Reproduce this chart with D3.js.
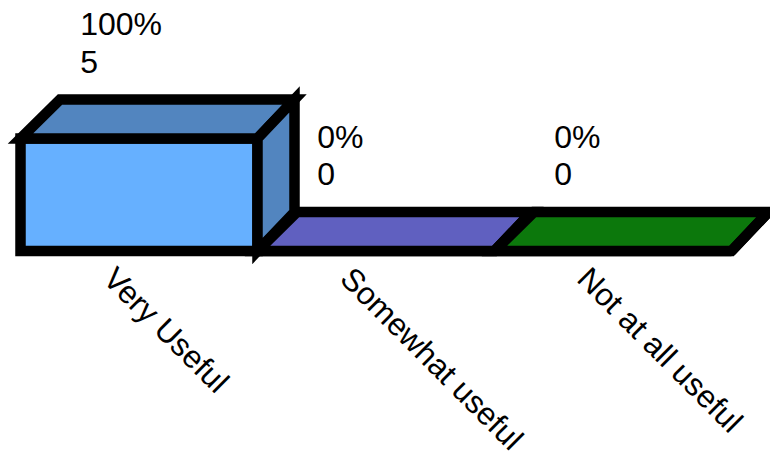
<!DOCTYPE html>
<html>
<head>
<meta charset="utf-8">
<script src="https://cdn.jsdelivr.net/npm/d3@7"></script>
<style>
  html, body { margin: 0; padding: 0; background: #fff; overflow: hidden; }
  text { font-family: "Liberation Sans", Arial, sans-serif; fill: #000; }
</style>
</head>
<body>
<div id="chart"></div>
<script>
// ---------- Data ----------
const categories = ['Very Useful', 'Somewhat useful', 'Not at all useful'];
const counts = [5, 0, 0];
const percents = ['100%', '0%', '0%'];
const frontColors = ['#66b0ff', '#6060c0', '#0c780c'];
const sideColors = ['#5285bf', '#6060c0', '#0c780c'];

const width = 770;
const height = 456;
const baseY = 251;
const depthX = 39.5;   // 3d offset of the back face
const depthY = 39;
const backInset = 2.5; // back face is a little narrower than the front
const fontSize = 32;
const axisFontSize = 31.6;

const svg = d3.select('#chart').append('svg')
  .attr('width', width)
  .attr('height', height)
  .style('display', 'block');

const x = d3.scaleBand().domain(categories).range([20.5, 731.5]);
const y = d3.scaleLinear().domain([0, 5]).range([baseY, 138.5]);

// Draw one box per category: front, top and side faces
const bars = svg.selectAll('g.bar')
  .data(categories)
  .join('g')
  .attr('class', 'bar')
  .attr('stroke', '#000')
  .attr('stroke-width', 10.5);

const corners = (d, idx) => {
  const l = x(d), r = l + x.bandwidth(), t = y(counts[idx]);
  return { l, r, t, backR: r + depthX - backInset };
};

bars.append('polygon')
  .attr('fill', (d, idx) => frontColors[idx])
  .attr('points', (d, idx) => {
    const { l, r, t } = corners(d, idx);
    return [[l, t], [r, t], [r, baseY], [l, baseY]].join(' ');
  });

bars.append('polygon')
  .attr('fill', (d, idx) => sideColors[idx])
  .attr('points', (d, idx) => {
    const { l, r, t, backR } = corners(d, idx);
    return [[l, t], [l + depthX, t - depthY], [backR, t - depthY], [r, t]].join(' ');
  });

bars.append('polygon')
  .attr('fill', (d, idx) => sideColors[idx])
  .attr('points', (d, idx) => {
    const { r, t, backR } = corners(d, idx);
    return [[r, t], [backR, t - depthY], [backR, baseY - depthY], [r, baseY]].join(' ');
  });

// Value labels, two lines above each box
const labels = svg.selectAll('text.value')
  .data(categories)
  .join('text')
  .attr('class', 'value')
  .attr('font-size', fontSize)
  .attr('x', d => x(d) + 59.7)
  .attr('y', (d, idx) => y(counts[idx]) - depthY - 27);

labels.append('tspan')
  .attr('dy', -37.5)
  .text((d, idx) => percents[idx]);

labels.append('tspan')
  .attr('x', d => x(d) + 59.7)
  .attr('dy', 37.5)
  .text((d, idx) => counts[idx]);

// Category axis, no line or ticks, labels turned 45 degrees
const axis = svg.append('g')
  .attr('transform', `translate(0,${baseY})`)
  .call(d3.axisBottom(x).tickSize(0));

axis.select('.domain').remove();
axis.selectAll('text')
  .attr('font-size', axisFontSize)
  .attr('font-family', null)
  .attr('text-anchor', 'start')
  .attr('x', 0)
  .attr('y', 0)
  .attr('dy', 0)
  .attr('transform', 'translate(-37.5,29.5) rotate(45)');
</script>
</body>
</html>
